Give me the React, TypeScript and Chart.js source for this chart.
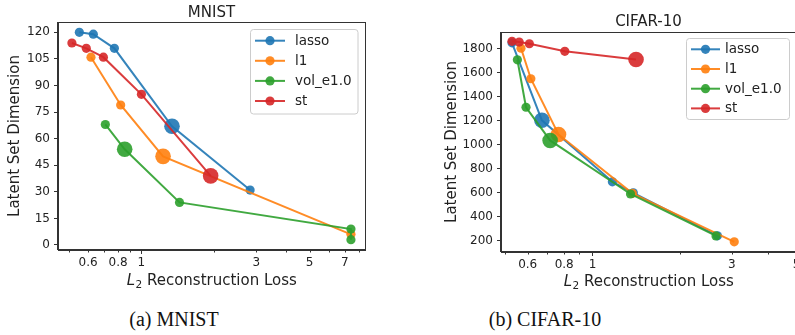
import React, { useEffect, useRef } from "react";
import { Chart, registerables } from "chart.js";

Chart.register(...registerables);

// ---------- shared ----------
const seriesNames = ["lasso", "l1", "vol_e1.0", "st"];
const seriesColors = [
  "rgba(31,119,180,0.9)",
  "rgba(255,127,14,0.9)",
  "rgba(44,160,44,0.9)",
  "rgba(214,39,40,0.9)",
];

// ---------- MNIST data ----------
const mnistLassoX = [0.552, 0.631, 0.772, 1.34, 2.83];
const mnistLassoY = [120, 119, 111, 67, 31];
const mnistL1X = [0.617, 0.82, 1.23, 7.43];
const mnistL1Y = [106, 79, 50, 6];
const mnistVolX = [0.708, 0.852, 1.44, 7.43, 7.43];
const mnistVolY = [68, 54, 24, 9, 3];
const mnistStX = [0.514, 0.59, 0.695, 1.0, 1.94];
const mnistStY = [114, 111, 106, 85, 39];
const mnistBigIndex = [3, 2, 1, 4];
const mnistXLabeled = [0.6, 0.8, 1, 3, 5, 7];
const mnistXMinor = [0.5, 0.7, 0.9, 2, 4, 6, 8];
const mnistYTicks = [0, 15, 30, 45, 60, 75, 90, 105, 120];

// ---------- CIFAR-10 data ----------
const cifarLassoX = [0.53, 0.671, 1.17, 1.38, 2.68];
const cifarLassoY = [1850, 1203, 690, 598, 239];
const cifarL1X = [0.569, 0.615, 0.765, 1.37, 3.06];
const cifarL1Y = [1805, 1550, 1085, 594, 189];
const cifarVolX = [0.553, 0.592, 0.716, 1.35, 2.65];
const cifarVolY = [1708, 1312, 1035, 588, 238];
const cifarStX = [0.53, 0.561, 0.608, 0.804, 1.41];
const cifarStY = [1862, 1856, 1842, 1779, 1711];
const cifarBigIndex = [1, 2, 2, 4];
const cifarXLabeled = [0.6, 0.8, 1, 3, 5];
const cifarXMinor = [0.5, 0.7, 0.9, 2, 4];
const cifarYTicks = [200, 400, 600, 800, 1000, 1200, 1400, 1600, 1800];

const FONT = '"DejaVu Sans", "Noto Sans", sans-serif';
const TEXT = "#222";
const AXIS = "#333";

type Spec = {
  xs: number[][];
  ys: number[][];
  big: number[];
  xLabeled: number[];
  xMinor: number[];
  yTicks: number[];
  xMin: number;
  xMax: number;
  yMin: number;
  yMax: number;
  title: string;
  canvasW: number;
  canvasH: number;
  area: { left: number; top: number; right: number; bottom: number };
  yAxisW: number;
  xAxisH: number;
  titleBaseline: number;
  yTitleX: number;
  xTitleBaseline: number;
  legend: { left: number; top: number; right: number; bottom: number; rowY0: number; rowDy: number; hx0: number; hx1: number; textX: number };
};

const mnistSpec: Spec = {
  xs: [mnistLassoX, mnistL1X, mnistVolX, mnistStX],
  ys: [mnistLassoY, mnistL1Y, mnistVolY, mnistStY],
  big: mnistBigIndex,
  xLabeled: mnistXLabeled,
  xMinor: mnistXMinor,
  yTicks: mnistYTicks,
  xMin: 0.45,
  xMax: 8.5,
  yMin: -2.85,
  yMax: 125.85,
  title: "MNIST",
  canvasW: 395,
  canvasH: 295,
  area: { left: 58, top: 22, right: 365, bottom: 250 },
  yAxisW: 40,
  xAxisH: 30,
  titleBaseline: 17,
  yTitleX: 15,
  xTitleBaseline: 285,
  legend: { left: 250.5, top: 29.5, right: 358, bottom: 114, rowY0: 40.7, rowDy: 20.1, hx0: 255, hx1: 285, textX: 295 },
};

const cifarSpec: Spec = {
  xs: [cifarLassoX, cifarL1X, cifarVolX, cifarStX],
  ys: [cifarLassoY, cifarL1Y, cifarVolY, cifarStY],
  big: cifarBigIndex,
  xLabeled: cifarXLabeled,
  xMinor: cifarXMinor,
  yTicks: cifarYTicks,
  xMin: 0.486,
  xMax: 4.98,
  yMin: 104,
  yMax: 1940,
  title: "CIFAR-10",
  canvasW: 410,
  canvasH: 295,
  area: { left: 101, top: 32, right: 396, bottom: 252 },
  yAxisW: 50,
  xAxisH: 30,
  titleBaseline: 26,
  yTitleX: 52,
  xTitleBaseline: 286,
  legend: { left: 286.5, top: 38.5, right: 389.5, bottom: 119.5, rowY0: 49.3, rowDy: 19.7, hx0: 291, hx1: 320, textX: 325 },
};

function roundRect(ctx: CanvasRenderingContext2D, x: number, y: number, w: number, h: number, r: number) {
  ctx.beginPath();
  ctx.moveTo(x + r, y);
  ctx.lineTo(x + w - r, y);
  ctx.arcTo(x + w, y, x + w, y + r, r);
  ctx.lineTo(x + w, y + h - r);
  ctx.arcTo(x + w, y + h, x + w - r, y + h, r);
  ctx.lineTo(x + r, y + h);
  ctx.arcTo(x, y + h, x, y + h - r, r);
  ctx.lineTo(x, y + r);
  ctx.arcTo(x, y, x + r, y, r);
  ctx.closePath();
}

function makeConfig(spec: Spec): any {
  const allX = [...spec.xMinor, ...spec.xLabeled].sort((a, b) => a - b);
  const datasets = spec.xs.map((xs, i) => ({
    label: seriesNames[i],
    data: xs.map((x, j) => ({ x, y: spec.ys[i][j] })),
    borderColor: seriesColors[i],
    backgroundColor: seriesColors[i],
    pointBackgroundColor: seriesColors[i],
    pointBorderColor: seriesColors[i],
    borderWidth: 2,
    pointBorderWidth: 0,
    pointRadius: xs.map((_, j) => (j === spec.big[i] ? 7.8 : 4.6)),
    pointHoverRadius: xs.map((_, j) => (j === spec.big[i] ? 7.8 : 4.6)),
    tension: 0,
    fill: false,
    order: 3 - i,
  }));

  const decor = {
    id: "decor",
    afterDraw(chart: any) {
      const ctx: CanvasRenderingContext2D = chart.ctx;
      const a = chart.chartArea;
      const xs = chart.scales.x;
      ctx.save();
      // spines
      ctx.strokeStyle = AXIS;
      ctx.lineWidth = 1;
      ctx.strokeRect(Math.round(a.left) - 0.5, Math.round(a.top) + 0.5, Math.round(a.right) - Math.round(a.left) + 1, Math.round(a.bottom) - Math.round(a.top) - 1);
      // x tick marks (major at decades, minor otherwise)
      ctx.beginPath();
      for (const v of allX) {
        const px = Math.round(xs.getPixelForValue(v)) + 0.5;
        const len = Math.abs(Math.log10(v) - Math.round(Math.log10(v))) < 1e-9 ? 4 : 2.5;
        ctx.moveTo(px, a.bottom);
        ctx.lineTo(px, a.bottom + len);
      }
      ctx.stroke();
      // title
      ctx.fillStyle = TEXT;
      ctx.font = `15px ${FONT}`;
      ctx.textAlign = "center";
      ctx.textBaseline = "alphabetic";
      const cx = (a.left + a.right) / 2;
      ctx.fillText(spec.title, cx, spec.titleBaseline);
      // y title
      ctx.save();
      ctx.translate(spec.yTitleX, (a.top + a.bottom) / 2);
      ctx.rotate(-Math.PI / 2);
      ctx.textBaseline = "middle";
      ctx.fillText("Latent Set Dimension", 0, 0);
      ctx.restore();
      // x title with italic L and subscript 2
      const fMain = `15px ${FONT}`;
      const fItal = `italic 15px ${FONT}`;
      const fSub = `10.5px ${FONT}`;
      ctx.font = fItal;
      const wL = ctx.measureText("L").width;
      ctx.font = fSub;
      const w2 = ctx.measureText("2").width;
      ctx.font = fMain;
      const rest = " Reconstruction Loss";
      const wR = ctx.measureText(rest).width;
      let x = cx - (wL + w2 + wR) / 2;
      ctx.textAlign = "left";
      ctx.textBaseline = "alphabetic";
      ctx.font = fItal;
      ctx.fillText("L", x, spec.xTitleBaseline);
      x += wL + 0.5;
      ctx.font = fSub;
      ctx.fillText("2", x, spec.xTitleBaseline + 3);
      x += w2;
      ctx.font = fMain;
      ctx.fillText(rest, x, spec.xTitleBaseline);
      // legend
      const L = spec.legend;
      roundRect(ctx, L.left, L.top, L.right - L.left, L.bottom - L.top, 3);
      ctx.fillStyle = "rgba(255,255,255,0.8)";
      ctx.fill();
      ctx.strokeStyle = "#cccccc";
      ctx.lineWidth = 1;
      ctx.stroke();
      ctx.font = `13.5px ${FONT}`;
      ctx.textBaseline = "middle";
      ctx.textAlign = "left";
      seriesNames.forEach((name, i) => {
        const y = L.rowY0 + i * L.rowDy;
        ctx.strokeStyle = seriesColors[i];
        ctx.lineWidth = 2;
        ctx.beginPath();
        ctx.moveTo(L.hx0, y);
        ctx.lineTo(L.hx1, y);
        ctx.stroke();
        ctx.fillStyle = seriesColors[i];
        ctx.beginPath();
        ctx.arc((L.hx0 + L.hx1) / 2, y, 4.6, 0, Math.PI * 2);
        ctx.fill();
        ctx.fillStyle = TEXT;
        ctx.fillText(name, L.textX, y + 0.5);
      });
      ctx.restore();
    },
  };

  return {
    type: "line",
    data: { datasets },
    options: {
      animation: false,
      responsive: false,
      maintainAspectRatio: false,
      devicePixelRatio: 1,
      events: [],
      layout: {
        padding: {
          left: spec.area.left - spec.yAxisW,
          top: spec.area.top,
          right: spec.canvasW - spec.area.right,
          bottom: spec.canvasH - spec.area.bottom - spec.xAxisH,
        },
      },
      plugins: { legend: { display: false }, title: { display: false }, tooltip: { enabled: false } },
      scales: {
        x: {
          type: "logarithmic",
          min: spec.xMin,
          max: spec.xMax,
          afterBuildTicks: (s: any) => {
            s.ticks = allX.map((v) => ({ value: v }));
          },
          afterFit: (s: any) => {
            s.height = spec.xAxisH;
          },
          ticks: {
            autoSkip: false,
            maxRotation: 0,
            minRotation: 0,
            padding: 2,
            color: TEXT,
            font: { family: FONT, size: 12 },
            callback: (v: number) => (spec.xLabeled.includes(v) ? String(v) : ""),
          },
          grid: { display: false, drawTicks: true, tickLength: 4 },
          border: { display: true, color: AXIS, width: 1 },
        },
        y: {
          type: "linear",
          min: spec.yMin,
          max: spec.yMax,
          afterBuildTicks: (s: any) => {
            s.ticks = spec.yTicks.map((v) => ({ value: v }));
          },
          afterFit: (s: any) => {
            s.width = spec.yAxisW;
          },
          ticks: {
            padding: 4,
            color: TEXT,
            font: { family: FONT, size: 12 },
            callback: (v: number) => String(v),
          },
          grid: { display: true, drawOnChartArea: false, drawTicks: true, tickLength: 4, color: AXIS, tickWidth: 1 },
          border: { display: true, color: AXIS, width: 1 },
        },
      },
    },
    plugins: [decor],
  };
}

function ChartBox({ spec, left }: { spec: Spec; left: number }) {
  const ref = useRef<HTMLCanvasElement>(null);
  useEffect(() => {
    const chart = new Chart(ref.current as HTMLCanvasElement, makeConfig(spec));
    return () => chart.destroy();
  }, [spec]);
  return (
    <div style={{ position: "absolute", left, top: 0, width: spec.canvasW, height: spec.canvasH }}>
      <canvas ref={ref} width={spec.canvasW} height={spec.canvasH} style={{ width: spec.canvasW, height: spec.canvasH, display: "block" }} />
    </div>
  );
}

const captionStyle: React.CSSProperties = {
  position: "absolute",
  top: 309,
  width: 200,
  textAlign: "center",
  fontFamily: '"Liberation Serif", "Times New Roman", serif',
  fontSize: 20,
  lineHeight: "20px",
  color: "#111",
  whiteSpace: "nowrap",
};

export default function App() {
  return (
    <div style={{ position: "absolute", left: 0, top: 0, width: 795, height: 335, overflow: "hidden", background: "#fff" }}>
      <ChartBox spec={mnistSpec} left={0} />
      <ChartBox spec={cifarSpec} left={400} />
      <div style={{ ...captionStyle, left: 174 - 100 }}>(a) MNIST</div>
      <div style={{ ...captionStyle, left: 545 - 100 }}>(b) CIFAR-10</div>
    </div>
  );
}
